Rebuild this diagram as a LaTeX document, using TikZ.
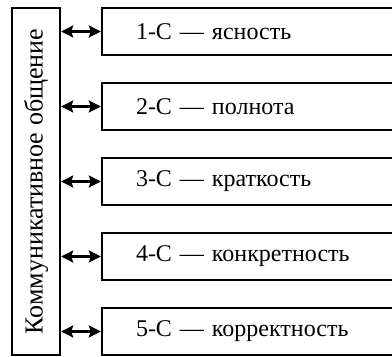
\documentclass[tikz,border=0pt]{standalone}
\usepackage{fontspec}
\setmainfont{Liberation Serif}
\usetikzlibrary{arrows.meta}
\tikzset{
  cbox/.style={draw, line width=1.2pt, minimum width=149pt, minimum height=23.5pt,
    text width=115pt, align=left, inner xsep=17pt, font=\fontsize{12}{14}\selectfont},
  link/.style={{Stealth[length=6pt,width=6pt,inset=1pt]}-{Stealth[length=6pt,width=6pt,inset=1pt]}, line width=1.2pt}
}
\begin{document}
\begin{tikzpicture}[x=0.5pt,y=-0.5pt]
  \useasboundingbox (0,0) rectangle (392,357);
  \clip (0,0) rectangle (392,357);

  % Le bloc de gauche
  \node[draw, line width=1.2pt, rotate=90, minimum width=173.5pt, minimum height=24pt,
    inner sep=0pt, font=\fontsize{13}{15}\selectfont] (comm) at (36,181.5) {Коммуникативное общение};

  % Les cinq C
  \node[cbox] (c1) at (251,31.5) {1-С — ясность};
  \node[cbox] (c2) at (251,106.5) {2-С — полнота};
  \node[cbox] (c3) at (251,181.5) {3-С — краткость};
  \node[cbox] (c4) at (251,256.5) {4-С — конкретность};
  \node[cbox] (c5) at (251,331.5) {5-С — корректность};

  % Les flèches
  \draw[link] (comm.south |- c1.west) -- (c1.west);
  \draw[link] (comm.south |- c2.west) -- (c2.west);
  \draw[link] (comm.south |- c3.west) -- (c3.west);
  \draw[link] (comm.south |- c4.west) -- (c4.west);
  \draw[link] (comm.south |- c5.west) -- (c5.west);
\end{tikzpicture}
\end{document}
